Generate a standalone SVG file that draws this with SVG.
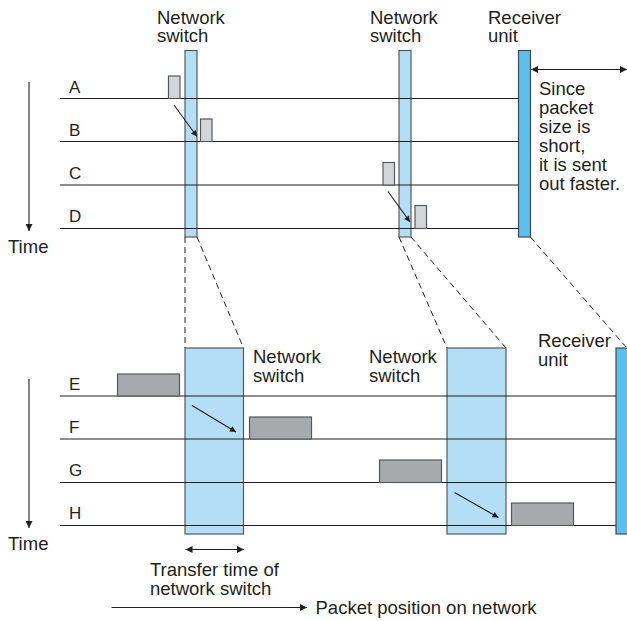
<svg xmlns="http://www.w3.org/2000/svg" width="627" height="621" viewBox="0 0 627 621">
<defs>
<marker id="ah" viewBox="0 0 10 10" refX="10" refY="5" markerWidth="11" markerHeight="7" markerUnits="userSpaceOnUse" orient="auto-start-reverse">
<path d="M0,0 L10,5 L0,10 z" fill="#231f20"/>
</marker>
<marker id="ahs" viewBox="0 0 10 10" refX="10" refY="5" markerWidth="9" markerHeight="6" markerUnits="userSpaceOnUse" orient="auto">
<path d="M0,0 L10,5 L0,10 z" fill="#231f20"/>
</marker>
</defs>
<style>
text{font-family:"Liberation Sans",Arial,Helvetica,sans-serif;font-size:18.5px;fill:#231f20}
.lbl{font-size:17px}
.sw{fill:#b3def5;stroke:#555a5e;stroke-width:1.2}
.rx{fill:#5bc0eb;stroke:#3f4a50;stroke-width:1.2}
.pk1{fill:#d4d5d7;stroke:#555a5e;stroke-width:1.2}
.pk2{fill:#a7a9ac;stroke:#555a5e;stroke-width:1.2}
.ln{stroke:#231f20;stroke-width:1.2;fill:none}
.dash{stroke:#231f20;stroke-width:1;stroke-dasharray:6 4;fill:none}
.arr{stroke:#231f20;stroke-width:1.1;fill:none}
</style>

<g id="switch1-top"><rect class="sw" x="185" y="50.5" width="12" height="186.5"/><text x="157" y="23.5">Network</text><text x="157" y="42">switch</text></g>
<g id="switch2-top"><rect class="sw" x="399" y="50.5" width="12" height="186.5"/><text x="370" y="23.5">Network</text><text x="370" y="42">switch</text></g>
<g id="receiver-top"><rect class="rx" x="518.5" y="50.5" width="12" height="186.5"/><text x="488" y="23.5">Receiver</text><text x="488" y="42">unit</text></g>

<g id="switch1-bottom"><rect class="sw" x="185" y="348" width="58.5" height="186"/><text x="253" y="363">Network</text><text x="253" y="382">switch</text></g>
<g id="switch2-bottom"><rect class="sw" x="447" y="348" width="59" height="186"/><text x="369" y="363">Network</text><text x="369" y="382">switch</text></g>
<g id="receiver-bottom"><rect class="rx" x="616" y="348" width="14" height="186"/><text x="538" y="347">Receiver</text><text x="538" y="366">unit</text></g>

<g id="timelines-top">
<line class="ln" x1="60" y1="98.5" x2="518.5" y2="98.5"/>
<line class="ln" x1="60" y1="141.5" x2="518.5" y2="141.5"/>
<line class="ln" x1="60" y1="185" x2="518.5" y2="185"/>
<line class="ln" x1="60" y1="228.5" x2="518.5" y2="228.5"/>
<text class="lbl" x="69" y="93">A</text>
<text class="lbl" x="69" y="135.5">B</text>
<text class="lbl" x="69" y="179">C</text>
<text class="lbl" x="69" y="222">D</text>
</g>
<g id="timelines-bottom">
<line class="ln" x1="60" y1="396" x2="616" y2="396"/>
<line class="ln" x1="60" y1="439" x2="616" y2="439"/>
<line class="ln" x1="60" y1="482.5" x2="616" y2="482.5"/>
<line class="ln" x1="60" y1="525.5" x2="616" y2="525.5"/>
<text class="lbl" x="69" y="390">E</text>
<text class="lbl" x="69" y="433">F</text>
<text class="lbl" x="69" y="476">G</text>
<text class="lbl" x="69" y="519">H</text>
</g>

<g id="packets">
<rect class="pk1" x="168.5" y="76" width="11.5" height="22.5"/>
<rect class="pk1" x="200.5" y="119" width="11.5" height="22.5"/>
<rect class="pk1" x="383" y="162.5" width="11.5" height="22.5"/>
<rect class="pk1" x="415" y="205.5" width="11.5" height="23"/>
<rect class="pk2" x="117.5" y="374" width="62" height="22"/>
<rect class="pk2" x="249.5" y="417" width="62" height="22"/>
<rect class="pk2" x="379.5" y="460" width="62" height="22.5"/>
<rect class="pk2" x="511.5" y="503" width="62" height="22.5"/>
</g>

<g id="connectors">
<line class="arr" x1="174" y1="105" x2="197" y2="136.5" marker-end="url(#ahs)"/>
<line class="arr" x1="388" y1="191.5" x2="410" y2="222" marker-end="url(#ahs)"/>
<line class="arr" x1="192" y1="405.5" x2="236" y2="432" marker-end="url(#ahs)"/>
<line class="arr" x1="454.5" y1="492.5" x2="498.5" y2="517.5" marker-end="url(#ahs)"/>
<line class="dash" x1="185" y1="237" x2="185" y2="348"/>
<line class="dash" x1="197" y1="237" x2="243.5" y2="348"/>
<line class="dash" x1="399" y1="237" x2="447" y2="348"/>
<line class="dash" x1="411" y1="237" x2="506" y2="348"/>
<line class="dash" x1="530.5" y1="237" x2="626" y2="347"/>
<line class="arr" x1="29" y1="82" x2="29" y2="231" marker-end="url(#ah)"/>
<line class="arr" x1="29" y1="379" x2="29" y2="528" marker-end="url(#ah)"/>
<line class="arr" x1="531" y1="69.5" x2="627" y2="69.5" marker-start="url(#ah)" marker-end="url(#ah)"/>
<line class="arr" x1="185.5" y1="549.5" x2="244" y2="549.5" marker-start="url(#ah)" marker-end="url(#ah)"/>
<line class="arr" x1="111.5" y1="607.5" x2="307" y2="607.5" marker-end="url(#ah)"/>
</g>

<g id="texts">
<text x="8" y="252.5">Time</text>
<text x="8" y="550">Time</text>
<text x="539" y="95">Since</text>
<text x="539" y="114">packet</text>
<text x="539" y="133">size is</text>
<text x="539" y="152">short,</text>
<text x="539" y="171">it is sent</text>
<text x="539" y="190">out faster.</text>
<text x="150" y="576">Transfer time of</text>
<text x="150" y="595">network switch</text>
<text x="315.5" y="614">Packet position on network</text>
</g>
</svg>
